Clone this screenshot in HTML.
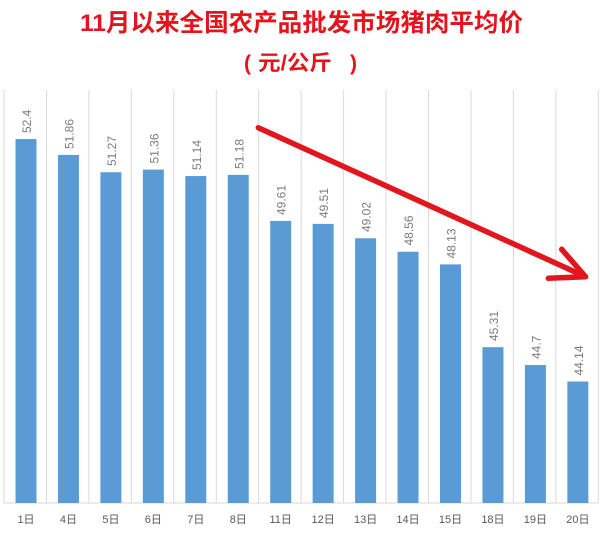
<!DOCTYPE html>
<html>
<head>
<meta charset="utf-8">
<style>
  html, body { margin:0; padding:0; background:#ffffff; }
  body { width:600px; height:536px; overflow:hidden; }
  svg { display:block; }
  .t { font-family:"Liberation Sans","Noto Sans CJK SC",sans-serif; font-weight:bold; fill:#e3141b; }
  .v { font-family:"Liberation Sans","Noto Sans CJK SC",sans-serif; font-size:12px; fill:#7b7b7b; }
  .x { font-family:"Liberation Sans","Noto Sans CJK SC",sans-serif; font-size:11px; fill:#595959; }
</style>
</head>
<body>
<svg width="600" height="536" viewBox="0 0 600 536" xmlns="http://www.w3.org/2000/svg">
  <rect x="0" y="0" width="600" height="536" fill="#ffffff"/>

  <!-- Title -->
  <text class="t" x="301.5" y="31" font-size="24.5" text-anchor="middle" textLength="443" lengthAdjust="spacingAndGlyphs">11月以来全国农产品批发市场猪肉平均价</text>
  <text class="t" x="244" y="70" font-size="21">(</text>
  <text class="t" x="258" y="70" font-size="21" textLength="74" lengthAdjust="spacingAndGlyphs">元/公斤</text>
  <text class="t" x="350" y="70" font-size="21">)</text>

  <!-- vertical gridlines -->
  <g stroke="#d9d9d9" stroke-width="1">
    <line x1="4" y1="90" x2="4" y2="503"/>
    <line x1="46.45" y1="90" x2="46.45" y2="503"/>
    <line x1="88.9" y1="90" x2="88.9" y2="503"/>
    <line x1="131.35" y1="90" x2="131.35" y2="503"/>
    <line x1="173.8" y1="90" x2="173.8" y2="503"/>
    <line x1="216.25" y1="90" x2="216.25" y2="503"/>
    <line x1="258.7" y1="90" x2="258.7" y2="503"/>
    <line x1="301.15" y1="90" x2="301.15" y2="503"/>
    <line x1="343.6" y1="90" x2="343.6" y2="503"/>
    <line x1="386.05" y1="90" x2="386.05" y2="503"/>
    <line x1="428.5" y1="90" x2="428.5" y2="503"/>
    <line x1="470.95" y1="90" x2="470.95" y2="503"/>
    <line x1="513.4" y1="90" x2="513.4" y2="503"/>
    <line x1="555.85" y1="90" x2="555.85" y2="503"/>
    <line x1="598.3" y1="90" x2="598.3" y2="503"/>
    <line x1="4" y1="503" x2="598.3" y2="503"/>
  </g>

  <!-- bars -->
  <g fill="#5b9bd5">
    <rect x="15.5" y="139.06" width="21" height="363.94"/>
    <rect x="57.95" y="154.91" width="21" height="348.09"/>
    <rect x="100.4" y="172.23" width="21" height="330.77"/>
    <rect x="142.85" y="169.58" width="21" height="333.42"/>
    <rect x="185.3" y="176.04" width="21" height="326.96"/>
    <rect x="227.75" y="174.87" width="21" height="328.13"/>
    <rect x="270.2" y="220.95" width="21" height="282.05"/>
    <rect x="312.65" y="223.88" width="21" height="279.12"/>
    <rect x="355.1" y="238.26" width="21" height="264.74"/>
    <rect x="397.55" y="251.76" width="21" height="251.24"/>
    <rect x="440" y="264.38" width="21" height="238.62"/>
    <rect x="482.45" y="347.15" width="21" height="155.85"/>
    <rect x="524.9" y="365.05" width="21" height="137.95"/>
    <rect x="567.35" y="381.49" width="21" height="121.51"/>
  </g>

  <!-- value labels (rotated) -->
  <g class="v">
    <text transform="translate(31,133) rotate(-90)">52.4</text>
    <text transform="translate(73.45,149) rotate(-90)">51.86</text>
    <text transform="translate(115.9,166) rotate(-90)">51.27</text>
    <text transform="translate(158.35,163.5) rotate(-90)">51.36</text>
    <text transform="translate(200.8,170) rotate(-90)">51.14</text>
    <text transform="translate(243.25,169) rotate(-90)">51.18</text>
    <text transform="translate(285.7,215) rotate(-90)">49.61</text>
    <text transform="translate(328.15,218) rotate(-90)">49.51</text>
    <text transform="translate(370.6,232) rotate(-90)">49.02</text>
    <text transform="translate(413.05,245.5) rotate(-90)">48.56</text>
    <text transform="translate(455.5,258.5) rotate(-90)">48.13</text>
    <text transform="translate(497.95,341) rotate(-90)">45.31</text>
    <text transform="translate(540.4,359) rotate(-90)">44.7</text>
    <text transform="translate(582.85,375.5) rotate(-90)">44.14</text>
  </g>

  <!-- x labels -->
  <g class="x" text-anchor="middle">
    <text x="26" y="523">1日</text>
    <text x="68.45" y="523">4日</text>
    <text x="110.9" y="523">5日</text>
    <text x="153.35" y="523">6日</text>
    <text x="195.8" y="523">7日</text>
    <text x="238.25" y="523">8日</text>
    <text x="280.7" y="523">11日</text>
    <text x="323.15" y="523">12日</text>
    <text x="365.6" y="523">13日</text>
    <text x="408.05" y="523">14日</text>
    <text x="450.5" y="523">15日</text>
    <text x="492.95" y="523">18日</text>
    <text x="535.4" y="523">19日</text>
    <text x="577.85" y="523">20日</text>
  </g>

  <!-- red arrow -->
  <g stroke="#e1161e" stroke-width="5.5" stroke-linecap="round" stroke-linejoin="round" fill="none">
    <line x1="258.3" y1="127.7" x2="585.5" y2="276.7"/>
    <polyline points="561.7,249.3 585.5,276.7 548.3,278.3"/>
  </g>
</svg>
</body>
</html>
